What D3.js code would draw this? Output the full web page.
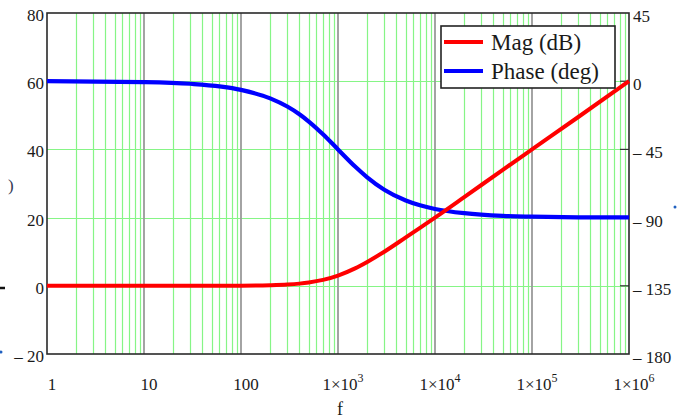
<!DOCTYPE html>
<html>
<head>
<meta charset="utf-8">
<script src="https://cdn.jsdelivr.net/npm/d3@7"></script>
<style>
  html, body { margin: 0; padding: 0; background: #fff; }
  svg { display: block; }
  text { font-family: "Liberation Serif", "Times New Roman", "DejaVu Serif", serif; }
</style>
</head>
<body>
<svg id="chart" width="677" height="420"></svg>
<script>
// ---- data ----
const freq     = [1, 10, 30, 100, 200, 300, 400, 500, 700, 1000, 1500, 2000, 3000, 5000, 7000, 10000, 20000, 50000, 100000, 300000, 1000000];
const magDb    = [0, 0, 0, 0.04, 0.17, 0.37, 0.64, 0.97, 1.73, 3.0, 5.1, 7.0, 10.0, 14.2, 17.0, 20.0, 26.0, 34.0, 40.0, 49.5, 60.0];
const phaseDeg = [0, -0.6, -1.7, -5.7, -11.3, -16.7, -21.8, -26.6, -35.0, -45.0, -56.3, -63.4, -71.6, -78.7, -81.9, -84.3, -87.1, -88.9, -89.4, -89.8, -89.9];

const xTickValues = [1, 10, 100, 1e3, 1e4, 1e5, 1e6];
const xTickLabels = [["1", ""], ["10", ""], ["100", ""], ["1\u00d710", "3"], ["1\u00d710", "4"], ["1\u00d710", "5"], ["1\u00d710", "6"]];
const leftTicks   = [80, 60, 40, 20, 0, -20];
const leftLabels  = ["80", "60", "40", "20", "0", "\u2013 20"];
const rightTicks  = [45, 0, -45, -90, -135, -180];
const rightLabels = ["45", "0", "\u2013 45", "\u2013 90", "\u2013 135", "\u2013 180"];
const seriesNames = ["Mag (dB)", "Phase (deg)"];
const seriesColors = ["#ff0000", "#0000ff"];
const xTitle = "f";

const FONT = "'Liberation Serif', 'Times New Roman', serif";

// ---- layout ----
const svg = d3.select("#chart");
const L = 47, R = 629, T = 13, B = 354;

const x = d3.scaleLog().domain([1, 1e6]).range([L, R]);
const yL = d3.scaleLinear().domain([-20, 80]).range([B, T]);
const yR = d3.scaleLinear().domain([-180, 45]).range([B, T]);

// minor green vertical gridlines
const minor = [];
for (let d = 0; d < 6; d++) for (let k = 2; k <= 9; k++) minor.push(k * Math.pow(10, d));
svg.append("g").selectAll("line").data(minor).join("line")
  .attr("x1", d => Math.round(x(d)) + 0.5).attr("x2", d => Math.round(x(d)) + 0.5)
  .attr("y1", T).attr("y2", B)
  .attr("stroke", "#86f586").attr("stroke-width", 1.2);

// horizontal green gridlines
svg.append("g").selectAll("line").data(leftTicks.filter(v => v > -20 && v < 80)).join("line")
  .attr("x1", L).attr("x2", R)
  .attr("y1", d => Math.round(yL(d)) + 0.5).attr("y2", d => Math.round(yL(d)) + 0.5)
  .attr("stroke", "#86f586").attr("stroke-width", 1.2);

// major gray decade gridlines
svg.append("g").selectAll("line").data(xTickValues.slice(1, -1)).join("line")
  .attr("x1", d => x(d)).attr("x2", d => x(d))
  .attr("y1", T).attr("y2", B)
  .attr("stroke", "#9a9a9a").attr("stroke-width", 1.8);

// inner ticks on right axis
svg.append("g").selectAll("line").data(rightTicks.slice(1, -1)).join("line")
  .attr("x1", R - 9).attr("x2", R)
  .attr("y1", d => yR(d)).attr("y2", d => yR(d))
  .attr("stroke", "#333").attr("stroke-width", 1.2);

// frame
svg.append("rect").attr("x", L).attr("y", T).attr("width", R - L).attr("height", B - T)
  .attr("fill", "none").attr("stroke", "#2a2a2a").attr("stroke-width", 1.6);

// series
const pts = freq.map((f, i) => ({ f, m: magDb[i], p: phaseDeg[i] }));
const phaseLine = d3.line().x(d => x(d.f)).y(d => yR(d.p)).curve(d3.curveMonotoneX);
const magLine = d3.line().x(d => x(d.f)).y(d => yL(d.m)).curve(d3.curveMonotoneX);
svg.append("path").datum(pts).attr("d", phaseLine)
  .attr("fill", "none").attr("stroke", seriesColors[1]).attr("stroke-width", 4.2);
svg.append("path").datum(pts).attr("d", magLine)
  .attr("fill", "none").attr("stroke", seriesColors[0]).attr("stroke-width", 4);

// left tick labels
svg.append("g").selectAll("text").data(leftTicks).join("text")
  .attr("x", 44).attr("y", d => yL(d) + 8)
  .attr("font-family", FONT)
  .attr("text-anchor", "end").attr("font-size", 17).attr("fill", "#1a1a1a")
  .text((d, i) => leftLabels[i]);

// right tick labels
svg.append("g").selectAll("text").data(rightTicks).join("text")
  .attr("x", 633).attr("y", d => yR(d) + 9)
  .attr("font-family", FONT)
  .attr("text-anchor", "start").attr("font-size", 17).attr("fill", "#1a1a1a")
  .text((d, i) => rightLabels[i]);

// x tick labels
const xl = svg.append("g").selectAll("text").data(xTickValues).join("text")
  .attr("x", d => x(d) + 5).attr("y", 390)
  .attr("font-family", FONT)
  .attr("text-anchor", "middle").attr("font-size", 17).attr("fill", "#1a1a1a");
xl.append("tspan").text((d, i) => xTickLabels[i][0]);
xl.append("tspan").attr("dy", -8).attr("font-size", 12).text((d, i) => xTickLabels[i][1]);

// x title
svg.append("text").attr("x", 340).attr("y", 415).attr("text-anchor", "middle")
  .attr("font-family", FONT)
  .attr("font-size", 18).attr("fill", "#1a1a1a").text(xTitle);

// clipped fragments of axis titles at the edges
svg.append("text").attr("x", 8).attr("y", 191).attr("font-family", FONT)
  .attr("font-size", 17).attr("fill", "#333a55").text(")");
svg.append("line").attr("x1", 0).attr("x2", 5).attr("y1", 288).attr("y2", 288).attr("stroke", "#111").attr("stroke-width", 2.5);
svg.append("circle").attr("cx", 1).attr("cy", 352).attr("r", 1.5).attr("fill", "#2060c0");
svg.append("circle").attr("cx", 675).attr("cy", 207).attr("r", 1.5).attr("fill", "#2060c0");

// legend
const lg = svg.append("g");
lg.append("rect").attr("x", 441).attr("y", 26).attr("width", 174).attr("height", 62)
  .attr("fill", "#fff").attr("stroke", "#222").attr("stroke-width", 1.6);
seriesNames.forEach((name, i) => {
  const yy = 42 + i * 29;
  lg.append("line").attr("x1", 444).attr("x2", 483).attr("y1", yy).attr("y2", yy)
    .attr("stroke", seriesColors[i]).attr("stroke-width", 4);
  lg.append("text").attr("x", 491).attr("y", yy + 8).attr("font-family", FONT)
    .attr("font-size", 23).attr("fill", "#1a1a1a").text(name);
});
</script>
</body>
</html>
